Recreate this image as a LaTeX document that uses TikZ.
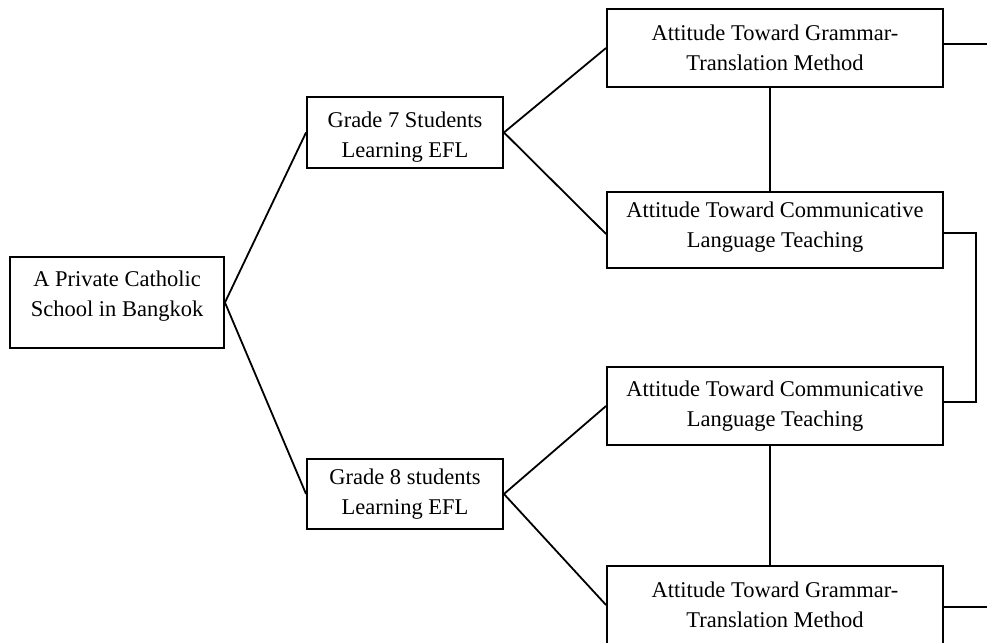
\documentclass[tikz,border=0pt]{standalone}
\usepackage{fontspec}
\setmainfont{Liberation Serif}
\begin{document}
\begin{tikzpicture}[x=1pt,y=-1pt,
  box/.style={draw,line width=1.9pt,rectangle,inner sep=0pt},
  txt/.style={align=center,inner sep=0pt,font=\fontsize{22.5}{30}\selectfont},
  conn/.style={line width=1.8pt}]
\useasboundingbox (0,0) rectangle (987,642);
\clip (0,0) rectangle (987,642);
\node[box,minimum width=214pt,minimum height=91pt] (school) at (117,302.5) {};
\node[box,minimum width=196pt,minimum height=71pt] (g7) at (405,132.5) {};
\node[box,minimum width=196pt,minimum height=70pt] (g8) at (405,494) {};
\node[box,minimum width=336pt,minimum height=78pt] (gt1) at (775,48) {};
\node[box,minimum width=336pt,minimum height=76pt] (clt1) at (775,230) {};
\node[box,minimum width=336pt,minimum height=78pt] (clt2) at (775,406) {};
\node[box,minimum width=336pt,minimum height=78pt] (gt2) at (775,605) {};
\node[txt] (school-t) at ([yshift=6pt]school.center) {A Private Catholic\\School in Bangkok};
\node[txt] (g7-t) at ([yshift=-5pt]g7.center) {Grade 7 Students\\Learning EFL};
\node[txt] (g8-t) at (g8.center) {Grade 8 students\\Learning EFL};
\node[txt] (gt1-t) at (gt1.center) {Attitude Toward Grammar-\\Translation Method};
\node[txt] (clt1-t) at ([yshift=3pt]clt1.center) {Attitude Toward Communicative\\Language Teaching};
\node[txt] (clt2-t) at (clt2.center) {Attitude Toward Communicative\\Language Teaching};
\node[txt] (gt2-t) at (gt2.center) {Attitude Toward Grammar-\\Translation Method};
\coordinate (e1) at (987,44);
\coordinate (e2) at (987,607);
\draw[conn] (school.east) -- (g7.west);
\draw[conn] (school.east) -- (g8.west);
\draw[conn] (g7.east) -- (gt1.west);
\draw[conn] (g7.east) -- ([yshift=-4pt]clt1.west);
\draw[conn] (g8.east) -- (clt2.west);
\draw[conn] (g8.east) -- (gt2.west);
\draw[conn] (gt1.east |- e1) -- (e1);
\draw[conn] (gt2.east |- e2) -- (e2);
\draw[line width=2.8pt] ([xshift=-5pt]gt1.south) -- ([xshift=-5pt]clt1.north);
\draw[conn] ([xshift=-5pt]clt2.south) -- ([xshift=-5pt]gt2.north);
\draw[conn] ([yshift=-3pt]clt1.east) -- ++(32,0) |- ([yshift=4pt]clt2.east);
\end{tikzpicture}
\end{document}
